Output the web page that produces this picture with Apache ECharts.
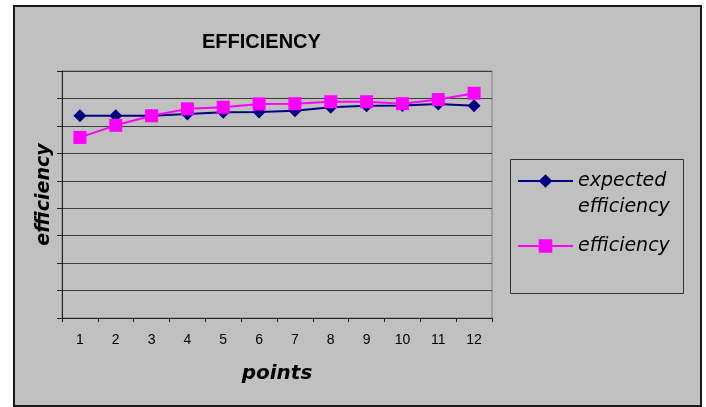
<!DOCTYPE html>
<html>
<head>
<meta charset="utf-8">
<script src="https://cdn.jsdelivr.net/npm/echarts@6/dist/echarts.min.js"></script>
<style>
  html, body { margin: 0; padding: 0; background: #ffffff; }
  #frame {
    position: absolute; left: 13px; top: 5px; width: 685px; height: 398px;
    background: #c0c0c0; border: 2px solid #1a1a1a;
  }
  #chart { position: absolute; left: 0; top: 0; width: 706px; height: 407px; }
</style>
</head>
<body>
<div id="frame"></div>
<div id="chart"></div>
<script>
// Measurement points along the x axis
const categories = ['1', '2', '3', '4', '5', '6', '7', '8', '9', '10', '11', '12'];
// Expected efficiency at each point (%)
const expectedEfficiency = [73.7, 73.7, 73.7, 74.3, 75.0, 75.1, 75.5, 76.8, 77.3, 77.4, 78.0, 77.3];
// Measured efficiency at each point (%)
const measuredEfficiency = [65.8, 70.2, 73.7, 76.2, 76.8, 78.0, 78.1, 78.8, 78.8, 78.1, 79.6, 81.9];
// Value axis range (labels are hidden)
const yMin = 0, yMax = 90, yStep = 10;

const chart = echarts.init(document.getElementById('chart'), null, { renderer: 'canvas' });

const italicText = { fontFamily: 'DejaVu Sans', fontStyle: 'italic', color: '#000' };

chart.setOption({
  backgroundColor: 'transparent',
  animation: false,
  title: {
    text: 'EFFICIENCY',
    left: 202,
    top: 32,
    padding: 0,
    textStyle: { fontFamily: 'Liberation Sans', fontWeight: 'bold', fontSize: 20, color: '#000' }
  },
  grid: {
    left: 62, right: 214, top: 71, bottom: 89,
    show: true, backgroundColor: '#c0c0c0', borderColor: '#808080', borderWidth: 1
  },
  legend: [
    {
      // Two-line label: the leading blank line keeps "expected" level with the icon
      orient: 'vertical', left: 517, top: 142, padding: 0,
      itemWidth: 55, itemHeight: 17, itemGap: 0,
      data: [{ name: 'expected efficiency' }],
      formatter: function () { return ' \nexpected\nefficiency'; },
      textStyle: Object.assign({ fontSize: 19, lineHeight: 26 }, italicText)
    },
    {
      orient: 'vertical', left: 517, top: 233, padding: 0,
      itemWidth: 55, itemHeight: 17, itemGap: 0,
      data: [{ name: 'efficiency' }],
      textStyle: Object.assign({ fontSize: 19, lineHeight: 26 }, italicText)
    }
  ],
  graphic: [
    {
      type: 'rect', silent: true,
      shape: { x: 510.5, y: 159.5, width: 173, height: 134 },
      style: { fill: null, stroke: '#333', lineWidth: 1 }
    }
  ],
  xAxis: {
    type: 'category',
    data: categories,
    boundaryGap: true,
    name: 'points',
    nameLocation: 'middle',
    nameGap: 46,
    nameTextStyle: Object.assign({ fontSize: 20, fontWeight: 'bold' }, italicText),
    axisLine: { lineStyle: { color: '#222', width: 1 } },
    axisTick: { show: true, length: 4, lineStyle: { color: '#222' } },
    axisLabel: { margin: 15, fontFamily: 'Liberation Sans', fontSize: 14, color: '#000' },
    splitLine: { show: false }
  },
  yAxis: {
    type: 'value',
    min: yMin, max: yMax, interval: yStep,
    name: 'efficiency',
    nameLocation: 'middle',
    nameRotate: 90,
    nameGap: 8,
    nameTextStyle: Object.assign({ fontSize: 19, fontWeight: 'bold' }, italicText),
    axisLine: { show: true, lineStyle: { color: '#222', width: 1 } },
    axisTick: { show: true, length: 5, lineStyle: { color: '#222' } },
    axisLabel: { show: false },
    splitLine: { show: true, lineStyle: { color: '#3c3c3c', width: 1 } }
  },
  series: [
    {
      name: 'expected efficiency',
      type: 'line',
      data: expectedEfficiency,
      symbol: 'diamond',
      symbolSize: 13,
      showAllSymbol: true,
      lineStyle: { color: '#000080', width: 2 },
      itemStyle: { color: '#000080', borderWidth: 0 }
    },
    {
      name: 'efficiency',
      type: 'line',
      data: measuredEfficiency,
      symbol: 'rect',
      symbolSize: 13,
      showAllSymbol: true,
      lineStyle: { color: '#ff00ff', width: 2 },
      itemStyle: { color: '#ff00ff', borderWidth: 0 }
    }
  ]
});
</script>
</body>
</html>
